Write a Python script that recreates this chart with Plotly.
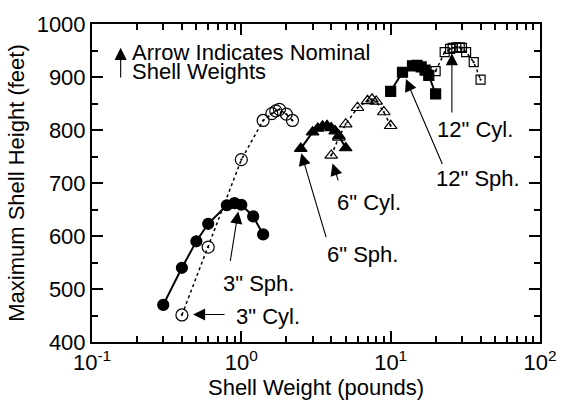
import math
import plotly.graph_objects as go

# ---- data ----
sph3_w = [0.3, 0.4, 0.5, 0.6, 0.8, 0.9, 1.0, 1.2, 1.4]
sph3_h = [470, 540, 590, 623, 658, 662, 659, 637, 603]

cyl3_w = [0.4, 0.6, 1.0, 1.4, 1.6, 1.7, 1.8, 2.0, 2.2]
cyl3_h = [451, 579, 744, 818, 831, 836, 839, 830, 818]

sph6_w = [2.5, 3.0, 3.25, 3.5, 3.75, 4.0, 4.25, 4.5, 5.0]
sph6_h = [765, 796, 803, 807, 808, 804, 798, 789, 766]

cyl6_w = [4.0, 4.5, 5.0, 6.0, 7.0, 7.5, 8.0, 9.0, 10.0]
cyl6_h = [752, 786, 811, 842, 855, 858, 854, 834, 808]

sph12_w = [10, 12, 14, 15, 16, 17, 18, 20]
sph12_h = [873, 909, 921, 922, 919, 913, 903, 868]

cyl12_w = [20, 23, 25, 26, 27.5, 29, 30, 32, 36, 40]
cyl12_h = [911, 947, 953, 955, 956, 956, 955, 947, 928, 895]

x_tickvals = [0.1, 1, 10, 100]
x_ticktext = ["10<sup>-1</sup>", "10<sup>0</sup>", "10<sup>1</sup>", "10<sup>2</sup>"]

# labels: (text, text_x, text_y, head_x, head_y, tail_x, tail_y)  in data units
labels = [
    ('3" Sph.', 1.30, 510, 0.953, 646, 0.84, 550),
    ('3" Cyl.', 1.51, 449, 0.475, 452, 0.79, 452),
    ('6" Sph.', 6.50, 565, 2.52, 756, 3.72, 595),
    ('6" Cyl.', 7.21, 664, 4.08, 737, 4.49, 702),
    ('12" Sph.', 38.5, 708, 12.65, 896, 22.4, 733),
    ('12" Cyl.', 36.6, 801, 25.7, 945, 25.7, 830),
]

FONT = "Liberation Sans, Arial, Helvetica, sans-serif"

fig = go.Figure()

def add(w, h, symbol, size, dash, lw, mlw=1.2):
    fig.add_trace(go.Scatter(
        x=w, y=h, mode="lines+markers",
        line=dict(color="black", width=lw, dash=dash),
        marker=dict(symbol=symbol, size=size, color="black",
                    line=dict(color="black", width=mlw)),
        showlegend=False))

add(cyl3_w, cyl3_h, "circle-open-dot", 12, "dot", 1.5)
add(sph3_w, sph3_h, "circle", 11, "solid", 2)
add(cyl6_w, cyl6_h, "triangle-up-open-dot", 11, "dot", 1.5)
add(sph6_w, sph6_h, "triangle-up", 11, "solid", 2)
add(cyl12_w, cyl12_h, "square-open-dot", 9, "dot", 1.5)
add(sph12_w, sph12_h, "square", 10, "solid", 2)

ann = []
for text, tx, ty, hx, hy, ax_, ay_ in labels:
    ann.append(dict(x=math.log10(hx), y=hy, ax=math.log10(ax_), ay=ay_,
                    xref="x", yref="y", axref="x", ayref="y", text="",
                    showarrow=True, arrowhead=2, arrowsize=2.2, arrowwidth=1.1,
                    arrowcolor="black", standoff=0))
    ann.append(dict(x=math.log10(tx), y=ty, xref="x", yref="y", text=text,
                    showarrow=False, font=dict(family=FONT, size=22, color="black"),
                    xanchor="center", yanchor="middle"))

# legend note
ann.append(dict(x=math.log10(0.1556), y=955, ax=math.log10(0.1556), ay=896,
                xref="x", yref="y", axref="x", ayref="y", text="",
                showarrow=True, arrowhead=2, arrowsize=2.2, arrowwidth=1.1,
                arrowcolor="black", standoff=0))
ann.append(dict(x=math.log10(0.181), y=946, xref="x", yref="y",
                text="Arrow Indicates Nominal", showarrow=False,
                font=dict(family=FONT, size=22, color="black"),
                xanchor="left", yanchor="middle"))
ann.append(dict(x=math.log10(0.181), y=910, xref="x", yref="y",
                text="Shell Weights", showarrow=False,
                font=dict(family=FONT, size=22, color="black"),
                xanchor="left", yanchor="middle"))

axis_common = dict(
    showgrid=False, zeroline=False, showline=True, linecolor="black",
    linewidth=2, mirror="allticks", ticks="inside", ticklen=11,
    tickwidth=1.5, tickcolor="black",
    tickfont=dict(family=FONT, size=22, color="black"),
)

fig.update_layout(
    width=569, height=407,
    margin=dict(l=92, r=17, t=17, b=61),
    paper_bgcolor="white", plot_bgcolor="white",
    font=dict(family=FONT, size=22, color="black"),
    annotations=ann,
    xaxis=dict(type="log", range=[-1, 2], tickvals=x_tickvals, ticktext=x_ticktext,
               minor=dict(ticks="inside", ticklen=6, tickwidth=1.5, tickcolor="black",
                          dtick="D1", showgrid=False),
               title=dict(text="Shell Weight (pounds)", standoff=4,
                          font=dict(family=FONT, size=22)),
               **axis_common),
    yaxis=dict(range=[400, 1000], dtick=100,
               minor=dict(ticks="inside", ticklen=6, tickwidth=1.5, tickcolor="black",
                          dtick=50, showgrid=False),
               title=dict(text="Maximum Shell Height (feet)", standoff=6,
                          font=dict(family=FONT, size=22)),
               **axis_common),
)

fig.write_html("out.html")
